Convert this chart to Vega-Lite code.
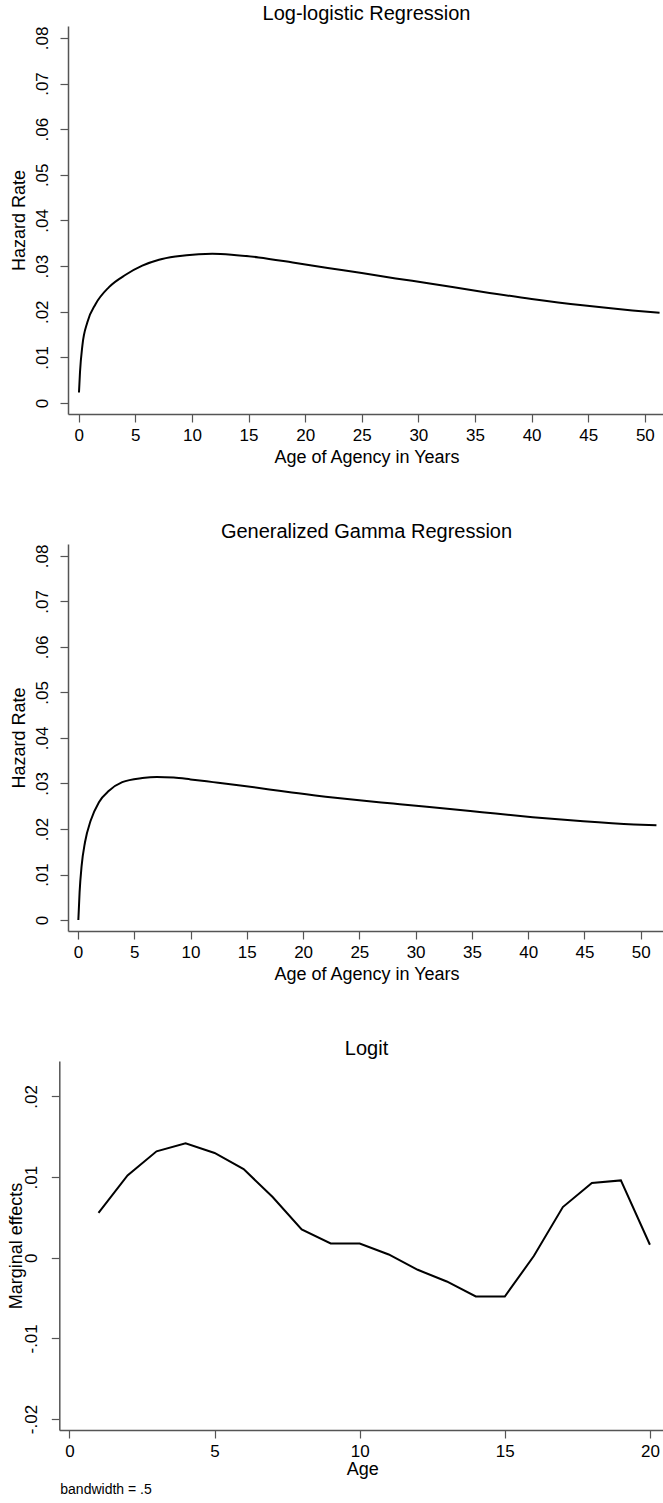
{
  "$schema": "https://vega.github.io/schema/vega-lite/v6.json",
  "padding": {"left": 7, "top": 4, "right": 0, "bottom": 0},
  "bounds": "flush",
  "spacing": 130,
  "config": {
    "font": "Liberation Sans",
    "view": {"stroke": null},
    "axis": {
      "grid": false,
      "domainColor": "#555555",
      "tickColor": "#555555",
      "domainWidth": 1.5,
      "tickWidth": 1.2,
      "tickSize": 8,
      "labelColor": "#000000",
      "titleColor": "#000000",
      "labelFont": "Liberation Sans",
      "titleFont": "Liberation Sans",
      "labelFontSize": 17,
      "titleFontSize": 18,
      "titleFontWeight": "normal"
    },
    "axisX": {"labelPadding": 5, "titlePadding": 5, "labelFlush": false},
    "axisY": {"labelAngle": 270, "labelAlign": "center", "labelBaseline": "bottom", "labelPadding": 9, "titlePadding": 5, "labelFlush": false},
    "title": {"fontSize": 20, "fontWeight": "normal", "color": "#000000", "font": "Liberation Sans", "offset": 2}
  },
  "title": {"text": "bandwidth = .5", "orient": "bottom", "anchor": "start", "frame": "bounds", "fontSize": 14, "fontWeight": "normal", "offset": 5, "dx": 53},
  "vconcat": [
    {
      "width": 597,
      "height": 388,
      "title": {"text": "Log-logistic Regression"},
      "data": {"values": [
        {"age": 0.03, "hazard": 0.0023},
        {"age": 0.12, "hazard": 0.0068},
        {"age": 0.33, "hazard": 0.0126},
        {"age": 0.77, "hazard": 0.0177},
        {"age": 1.5, "hazard": 0.0217},
        {"age": 2.68, "hazard": 0.0254},
        {"age": 4.15, "hazard": 0.0281},
        {"age": 5.62, "hazard": 0.0301},
        {"age": 7.1, "hazard": 0.0314},
        {"age": 8.56, "hazard": 0.0321},
        {"age": 10.6, "hazard": 0.0326},
        {"age": 11.8, "hazard": 0.03268},
        {"age": 13.5, "hazard": 0.0325},
        {"age": 15.9, "hazard": 0.0319},
        {"age": 18.9, "hazard": 0.0308},
        {"age": 22.0, "hazard": 0.0296},
        {"age": 25.0, "hazard": 0.0285},
        {"age": 28.0, "hazard": 0.0273},
        {"age": 31.0, "hazard": 0.0262},
        {"age": 33.0, "hazard": 0.0254},
        {"age": 35.6, "hazard": 0.0244},
        {"age": 40.0, "hazard": 0.0228},
        {"age": 44.5, "hazard": 0.0214},
        {"age": 48.9, "hazard": 0.0203},
        {"age": 51.3, "hazard": 0.0198}
      ]},
      "mark": {"type": "line", "color": "#000000", "strokeWidth": 2, "interpolate": "monotone"},
      "encoding": {
        "x": {"field": "age", "type": "quantitative",
              "scale": {"domain": [-0.94, 51.78], "nice": false, "zero": false},
              "axis": {"values": [0,5,10,15,20,25,30,35,40,45,50], "title": "Age of Agency in Years"}},
        "y": {"field": "hazard", "type": "quantitative",
              "scale": {"domain": [-0.0024, 0.0826], "nice": false, "zero": false},
              "axis": {"values": [0,0.01,0.02,0.03,0.04,0.05,0.06,0.07,0.08], "title": "Hazard Rate",
                       "labelExpr": "datum.value == 0 ? '0' : replace(replace(format(datum.value, '.2f'), '0.', '.'), '\u2212', '-')"}}
      }
    },
    {
      "width": 597,
      "height": 387,
      "title": {"text": "Generalized Gamma Regression"},
      "data": {"values": [
        {"age": 0.03, "hazard": 0.0},
        {"age": 0.14, "hazard": 0.0061},
        {"age": 0.32, "hazard": 0.0119},
        {"age": 0.62, "hazard": 0.0171},
        {"age": 1.12, "hazard": 0.0218},
        {"age": 1.86, "hazard": 0.0259},
        {"age": 2.75, "hazard": 0.0284},
        {"age": 3.93, "hazard": 0.0303},
        {"age": 5.71, "hazard": 0.0312},
        {"age": 7.0, "hazard": 0.03145},
        {"age": 8.5, "hazard": 0.0313},
        {"age": 10.0, "hazard": 0.0309},
        {"age": 12.0, "hazard": 0.0303},
        {"age": 14.6, "hazard": 0.0295},
        {"age": 17.0, "hazard": 0.0287},
        {"age": 19.0, "hazard": 0.0280},
        {"age": 22.0, "hazard": 0.0271},
        {"age": 25.0, "hazard": 0.0263},
        {"age": 28.0, "hazard": 0.0256},
        {"age": 31.0, "hazard": 0.0249},
        {"age": 33.5, "hazard": 0.0243},
        {"age": 35.9, "hazard": 0.0237},
        {"age": 40.4, "hazard": 0.0226},
        {"age": 44.9, "hazard": 0.0217},
        {"age": 49.4, "hazard": 0.0210},
        {"age": 51.4, "hazard": 0.0208}
      ]},
      "mark": {"type": "line", "color": "#000000", "strokeWidth": 2, "interpolate": "monotone"},
      "encoding": {
        "x": {"field": "age", "type": "quantitative",
              "scale": {"domain": [-0.89, 52.16], "nice": false, "zero": false},
              "axis": {"values": [0,5,10,15,20,25,30,35,40,45,50], "title": "Age of Agency in Years"}},
        "y": {"field": "hazard", "type": "quantitative",
              "scale": {"domain": [-0.0024, 0.0826], "nice": false, "zero": false},
              "axis": {"values": [0,0.01,0.02,0.03,0.04,0.05,0.06,0.07,0.08], "title": "Hazard Rate",
                       "labelExpr": "datum.value == 0 ? '0' : replace(replace(format(datum.value, '.2f'), '0.', '.'), '\u2212', '-')"}}
      }
    },
    {
      "width": 597,
      "height": 369,
      "title": {"text": "Logit"},
      "data": {"values": [
        {"age": 1, "effect": 0.00558},
        {"age": 2, "effect": 0.0102},
        {"age": 3, "effect": 0.0132},
        {"age": 4, "effect": 0.0142},
        {"age": 5, "effect": 0.0130},
        {"age": 6, "effect": 0.0110},
        {"age": 7, "effect": 0.00753},
        {"age": 8, "effect": 0.00351},
        {"age": 9, "effect": 0.00177},
        {"age": 10, "effect": 0.00177},
        {"age": 11, "effect": 0.00041},
        {"age": 12, "effect": -0.00149},
        {"age": 13, "effect": -0.00294},
        {"age": 14, "effect": -0.0048},
        {"age": 15, "effect": -0.0048},
        {"age": 16, "effect": 0.00021},
        {"age": 17, "effect": 0.00629},
        {"age": 18, "effect": 0.00927},
        {"age": 19, "effect": 0.00959},
        {"age": 20, "effect": 0.00161}
      ]},
      "mark": {"type": "line", "color": "#000000", "strokeWidth": 2},
      "encoding": {
        "x": {"field": "age", "type": "quantitative",
              "scale": {"domain": [-0.351, 20.52], "range": [-8.7, 597], "nice": false, "zero": false},
              "axis": {"values": [0,5,10,15,20], "title": "Age", "titlePadding": 1}},
        "y": {"field": "effect", "type": "quantitative",
              "scale": {"domain": [-0.02136, 0.0244], "nice": false, "zero": false},
              "axis": {"values": [-0.02,-0.01,0,0.01,0.02], "title": "Marginal effects", "offset": 8.7, "labelPadding": 11, "titlePadding": -3,
                       "labelExpr": "datum.value == 0 ? '0' : replace(replace(format(datum.value, '.2f'), '0.', '.'), '\u2212', '-')"}}
      }
    }
  ]
}
